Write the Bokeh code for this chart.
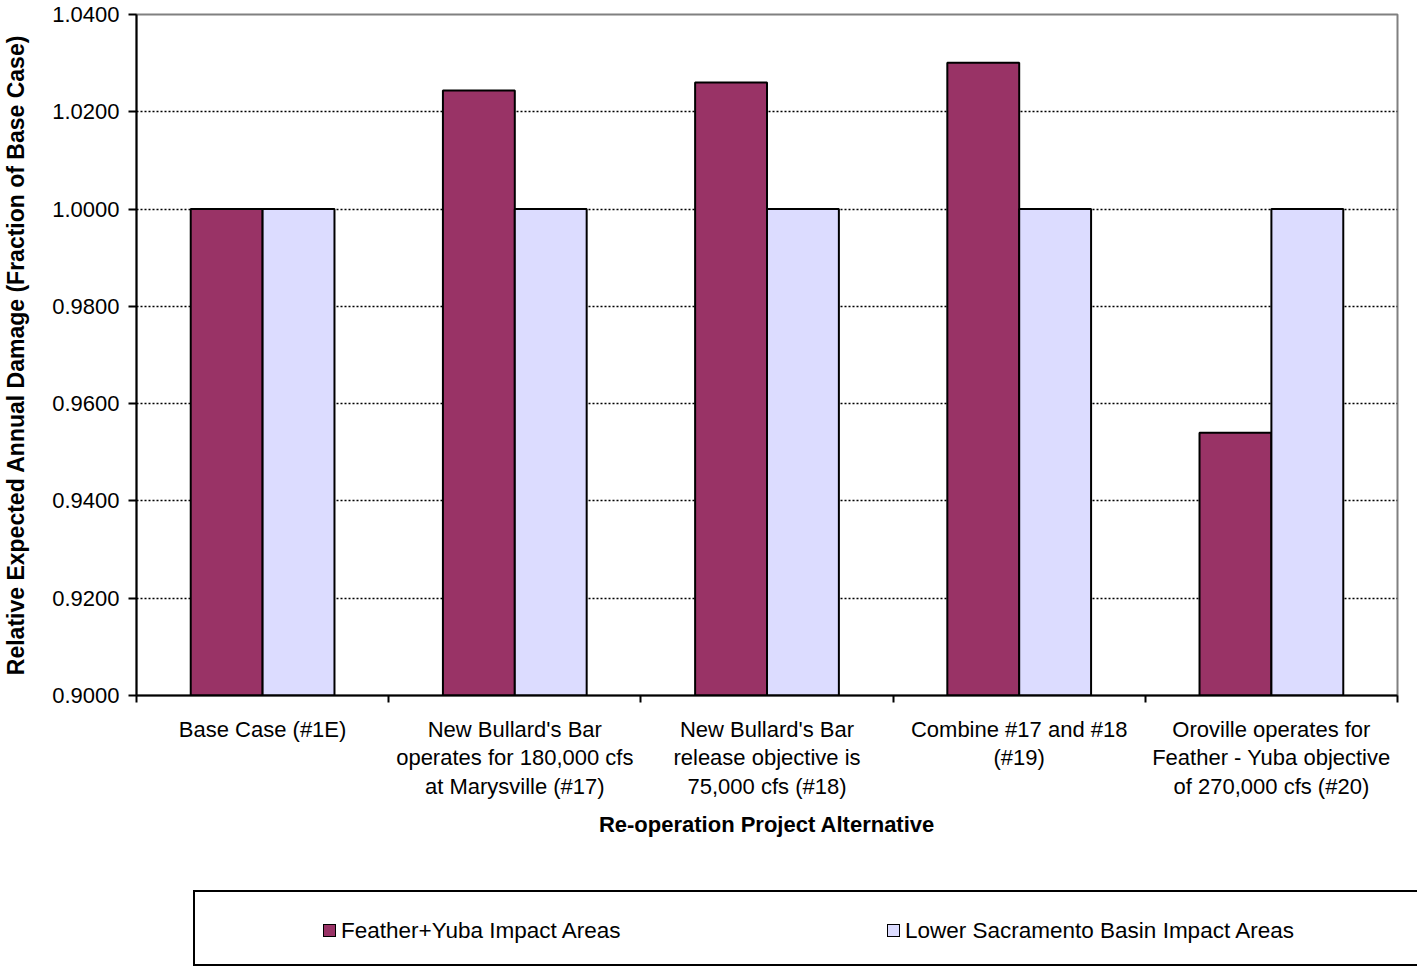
import numpy as np
from bokeh.plotting import figure
from bokeh.models import (ColumnDataSource, FixedTicker, NumeralTickFormatter, Div)
from bokeh.layouts import column
from bokeh.embed import file_html
from bokeh.resources import INLINE

# ---- data -------------------------------------------------------------
categories = [
    "Base Case (#1E)",
    "New Bullard's Bar\noperates for 180,000 cfs\nat Marysville (#17)",
    "New Bullard's Bar\nrelease objective is\n75,000 cfs (#18)",
    "Combine #17 and #18\n(#19)",
    "Oroville operates for\nFeather - Yuba objective\nof 270,000 cfs (#20)",
]
feather_yuba = [1.0000, 1.0244, 1.0260, 1.0301, 0.9540]
lower_sacramento = [1.0000, 1.0000, 1.0000, 1.0000, 1.0000]
series_names = ["Feather+Yuba Impact Areas", "Lower Sacramento Basin Impact Areas"]
y_ticks = [0.90, 0.92, 0.94, 0.96, 0.98, 1.00, 1.02, 1.04]
x_title = "Re-operation Project Alternative"
y_title = "Relative Expected Annual Damage (Fraction of Base Case)"

# ---- styling ----------------------------------------------------------
FONT = "Liberation Sans"
C_FEATHER = "#993366"
C_LOWER = "#DCDCFF"
series_colors = [C_FEATHER, C_LOWER]
W, H_MAIN, H_LEG = 1417, 870, 103
LEFT, RIGHT, TOP, BOTTOM = 135, 1397, 14, 695  # plot frame in pixels
N = len(categories)

p = figure(width=W, height=H_MAIN, x_range=(0, N),
           y_range=(y_ticks[0], y_ticks[-1]),
           output_backend="svg", toolbar_location=None,
           min_border_left=LEFT, min_border_right=W - RIGHT,
           min_border_top=TOP, min_border_bottom=H_MAIN - BOTTOM)
p.background_fill_color = "white"
p.border_fill_color = "white"
p.outline_line_color = "#808080"
p.outline_line_width = 2

# clustered bars
bar_w = 0.285
centers = np.arange(N) + 0.5
src = ColumnDataSource(dict(
    xf=centers - bar_w / 2, xl=centers + bar_w / 2,
    f=feather_yuba, l=lower_sacramento,
))
p.vbar(x="xf", top="f", bottom=y_ticks[0], width=bar_w, source=src,
       fill_color=C_FEATHER, line_color="black", line_width=2)
p.vbar(x="xl", top="l", bottom=y_ticks[0], width=bar_w, source=src,
       fill_color=C_LOWER, line_color="black", line_width=2)

# grid
p.xgrid.visible = False
p.ygrid.ticker = FixedTicker(ticks=y_ticks[1:-1])
p.ygrid.grid_line_color = "black"
p.ygrid.grid_line_dash = "2 2"
p.ygrid.grid_line_width = 1.3

# value axis
yax = p.yaxis[0]
yax.ticker = FixedTicker(ticks=y_ticks)
yax.formatter = NumeralTickFormatter(format="0.0000")
yax.major_tick_in = 0
yax.major_tick_out = 8
yax.minor_tick_line_color = None
yax.axis_line_width = 2
yax.major_tick_line_width = 2
yax.major_label_standoff = 9
yax.major_label_text_font = FONT
yax.major_label_text_font_size = "22px"
yax.major_label_text_color = "black"
yax.axis_label = y_title
yax.axis_label_text_font = FONT
yax.axis_label_text_font_size = "23px"
yax.axis_label_text_font_style = "bold"
yax.axis_label_text_color = "black"
yax.axis_label_standoff = 20

# category axis: labels at group centres, tick marks between groups
xax = p.xaxis[0]
xax.ticker = FixedTicker(ticks=list(centers), minor_ticks=list(range(N + 1)))
xax.major_label_overrides = {float(c): cat for c, cat in zip(centers, categories)}
xax.major_label_text_font = FONT
xax.major_label_text_font_size = "22px"
xax.major_label_text_color = "black"
xax.major_label_text_line_height = 1.15
xax.major_label_standoff = 14
xax.major_tick_in = 0
xax.major_tick_out = 0
xax.minor_tick_in = 0
xax.minor_tick_out = 7
xax.minor_tick_line_width = 2
xax.minor_tick_line_color = "black"
xax.axis_line_width = 2
xax.axis_label = x_title
xax.axis_label_text_font = FONT
xax.axis_label_text_font_size = "22px"
xax.axis_label_text_font_style = "bold"
xax.axis_label_text_color = "black"
xax.axis_label_standoff = 10

# ---- legend panel -----------------------------------------------------
items = []
for k, (name, col) in enumerate(zip(series_names, series_colors)):
    sw_left = [323, 887][k]
    items.append(
        f'<div style="position:absolute;left:{sw_left}px;top:54px;width:13px;'
        f'height:13px;box-sizing:border-box;border:1.5px solid black;'
        f'background:{col};"></div>'
        f'<div style="position:absolute;left:{sw_left + 18}px;top:48px;'
        f'line-height:25px;white-space:nowrap;">{name}</div>'
    )
legend_html = (
    f'<div style="position:relative;width:{W}px;height:{H_LEG}px;overflow:hidden;'
    f'font-family:\'{FONT}\';font-size:22.5px;color:black;background:white;">'
    f'<div style="position:absolute;left:193px;top:20px;width:1260px;height:76px;'
    f'box-sizing:border-box;border:2.5px solid black;"></div>'
    + "".join(items) + '</div>'
)
legend = Div(text=legend_html, width=W, height=H_LEG, margin=0)

layout = column(p, legend, spacing=0)
open("out.html", "w").write(file_html(layout, INLINE))
